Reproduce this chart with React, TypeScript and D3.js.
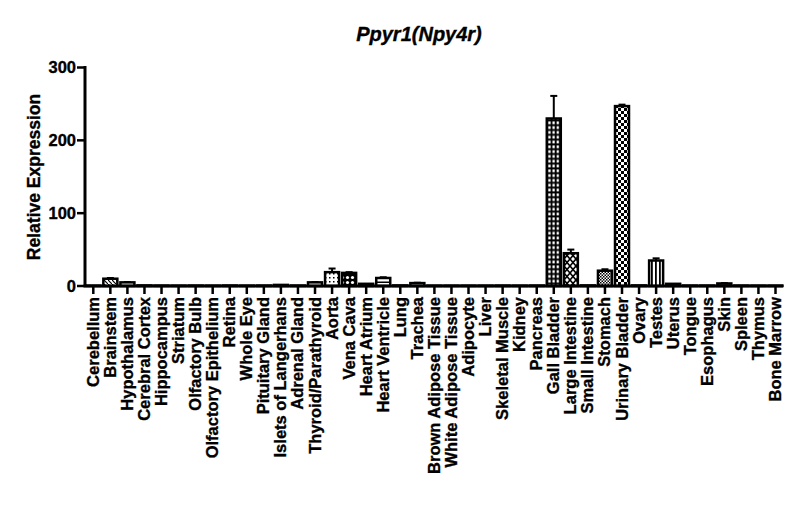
import React from 'react'
import * as d3 from 'd3'

const tissues = [
  'Cerebellum', 'Brainstem', 'Hypothalamus', 'Cerebral Cortex', 'Hippocampus', 'Striatum',
  'Olfactory Bulb', 'Olfactory Epithelium', 'Retina', 'Whole Eye', 'Pituitary Gland',
  'Islets of Langerhans', 'Adrenal Gland', 'Thyroid/Parathyroid', 'Aorta', 'Vena Cava',
  'Heart Atrium', 'Heart Ventricle', 'Lung', 'Trachea', 'Brown Adipose Tissue',
  'White Adipose Tissue', 'Adipocyte', 'Liver', 'Skeletal Muscle', 'Kidney', 'Pancreas',
  'Gall Bladder', 'Large Intestine', 'Small Intestine', 'Stomach', 'Urinary Bladder', 'Ovary',
  'Testes', 'Uterus', 'Tongue', 'Esophagus', 'Skin', 'Spleen', 'Thymus', 'Bone Marrow',
]

const expression = [
  0.5, 10, 5, 0.8, 0.6, 0.5, 0.6, 0.5, 0.7, 0.5, 0.6, 1.5, 0.6, 5, 19, 18, 3, 11, 0.8, 4,
  0.5, 0.5, 0.5, 0.5, 0.6, 0.5, 0.6, 230, 45, 0.8, 21, 247, 0.8, 35, 3, 0.6, 0.6, 3.5, 0.6,
  0.5, 0.5,
]

const sem = [
  0, 1, 0.5, 0, 0, 0, 0, 0, 0, 0, 0, 0, 0, 0.5, 5, 1, 0, 1, 0, 0.5, 0, 0, 0, 0, 0, 0, 0,
  31, 5, 0, 2, 2, 0, 3, 0, 0, 0, 0.5, 0, 0, 0,
]

// fill pattern per tissue (Prism style)
const fills = [
  'none', 'diag', 'none', 'none', 'none', 'none', 'none', 'none', 'none', 'none', 'none',
  'none', 'none', 'none', 'dots', 'rings', 'none', 'hlines', 'none', 'none', 'none', 'none',
  'none', 'none', 'none', 'none', 'none', 'grid', 'cross', 'none', 'fine', 'check', 'none',
  'vlines', 'none', 'none', 'none', 'none', 'none', 'none', 'none',
]

const yTicks = [0, 100, 200, 300]

const font = 'Liberation Sans, Arial, sans-serif'

export default function App() {
  const width = 800
  const height = 528

  const x = d3.scalePoint<string>().domain(tissues).range([93.3, 775.5])
  const y = d3.scaleLinear().domain([0, 300]).range([286, 67.5])
  const barW = 14
  const axisX = 85

  const fillFor = (f: string) => (f === 'none' ? 'white' : `url(#p-${f})`)
  const heavy = { stroke: 'black', strokeWidth: 0.35 }

  return (
    <svg width={width} height={height} style={{ position: 'absolute', left: 0, top: 0 }}>
      <defs>
        <pattern id="p-diag" width="4" height="4" patternUnits="userSpaceOnUse">
          <rect width="4" height="4" fill="white" />
          <path d="M0,0 L4,4" stroke="black" strokeWidth="1.2" />
        </pattern>
        <pattern id="p-dots" width="4" height="4" patternUnits="userSpaceOnUse">
          <rect width="4" height="4" fill="white" />
          <rect x="1" y="1" width="1.5" height="1.5" fill="black" />
        </pattern>
        <pattern id="p-rings" width="5" height="5" patternUnits="userSpaceOnUse">
          <rect width="5" height="5" fill="black" />
          <circle cx="2.5" cy="2.5" r="1.6" fill="white" />
        </pattern>
        <pattern id="p-hlines" width="4" height="4" patternUnits="userSpaceOnUse">
          <rect width="4" height="4" fill="white" />
          <rect y="1.5" width="4" height="1.5" fill="black" />
        </pattern>
        <pattern id="p-grid" width="4.2" height="4.8" patternUnits="userSpaceOnUse" x="546.7">
          <rect width="4.2" height="4.8" fill="black" />
          <rect x="1.5" y="1.4" width="2.4" height="2.8" fill="white" />
        </pattern>
        <pattern id="p-cross" width="6" height="7" patternUnits="userSpaceOnUse">
          <rect width="6" height="7" fill="white" />
          <path d="M0,0 L6,7 M6,0 L0,7" stroke="black" strokeWidth="1.6" />
        </pattern>
        <pattern id="p-fine" width="3" height="3" patternUnits="userSpaceOnUse">
          <rect width="3" height="3" fill="white" />
          <rect width="1.5" height="1.5" fill="black" />
          <rect x="1.5" y="1.5" width="1.5" height="1.5" fill="black" />
        </pattern>
        <pattern id="p-check" width="6" height="6" patternUnits="userSpaceOnUse">
          <rect width="6" height="6" fill="white" />
          <rect width="3" height="3" fill="black" />
          <rect x="3" y="3" width="3" height="3" fill="black" />
        </pattern>
        <pattern id="p-vlines" width="4" height="4" patternUnits="userSpaceOnUse" x="651">
          <rect width="4" height="4" fill="white" />
          <rect x="0" width="1.8" height="4" fill="black" />
        </pattern>
      </defs>

      <text
        x={419}
        y={41}
        textAnchor="middle"
        fontFamily={font}
        fontWeight="bold"
        fontStyle="italic"
        fontSize={20}
        {...heavy}
      >
        Ppyr1(Npy4r)
      </text>

      <text
        transform={`translate(40,177) rotate(-90)`}
        textAnchor="middle"
        fontFamily={font}
        fontWeight="bold"
        fontSize={17.5}
        {...heavy}
      >
        Relative Expression
      </text>

      {/* bars */}
      {tissues.map((t, i) => {
        const cx = x(t) as number
        const v = expression[i]
        const top = y(v)
        const e = sem[i]
        return (
          <g key={t}>
            {e > 0 && (
              <g stroke="black" strokeWidth={2}>
                <line x1={cx} x2={cx} y1={top} y2={y(v + e)} />
                <line x1={cx - 3.5} x2={cx + 3.5} y1={y(v + e)} y2={y(v + e)} />
              </g>
            )}
            <rect
              x={cx - barW / 2}
              y={top}
              width={barW}
              height={Math.max(0, y(0) - top)}
              fill={fillFor(fills[i])}
              stroke="black"
              strokeWidth={2.5}
            />
          </g>
        )
      })}

      {/* y axis */}
      <line x1={axisX} x2={axisX} y1={y(300) - 1.5} y2={y(0)} stroke="black" strokeWidth={3} />
      {yTicks.map((t) => (
        <g key={t}>
          <line x1={axisX - 8} x2={axisX} y1={y(t)} y2={y(t)} stroke="black" strokeWidth={2.5} />
          <text
            x={axisX - 9}
            y={y(t)}
            dy="0.36em"
            textAnchor="end"
            fontFamily={font}
            fontWeight="bold"
            fontSize={16.5}
            {...heavy}
          >
            {t}
          </text>
        </g>
      ))}

      {/* x axis */}
      <line x1={axisX - 1.5} x2={783} y1={y(0)} y2={y(0)} stroke="black" strokeWidth={3} />
      {tissues.map((t) => {
        const cx = x(t) as number
        return (
          <g key={t}>
            <line x1={cx} x2={cx} y1={y(0)} y2={y(0) + 8} stroke="black" strokeWidth={2.5} />
            <text
              transform={`translate(${cx + 5.5},${y(0) + 11}) rotate(-90)`}
              textAnchor="end"
              fontFamily={font}
              fontWeight="bold"
              fontSize={16.5}
              {...heavy}
            >
              {t}
            </text>
          </g>
        )
      })}
    </svg>
  )
}
